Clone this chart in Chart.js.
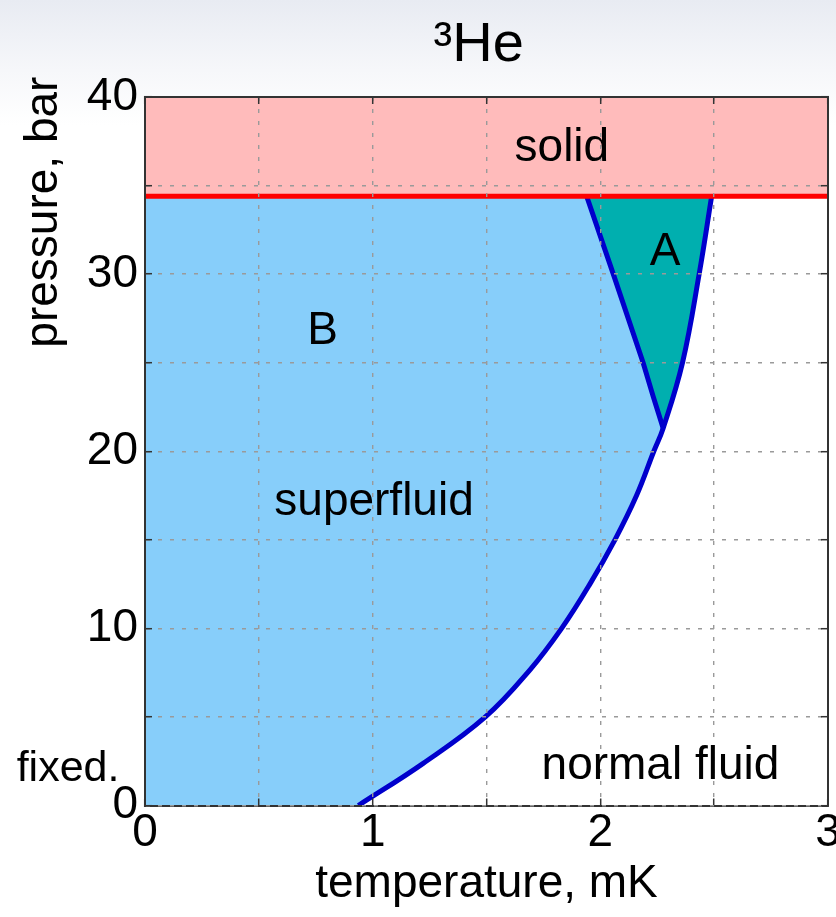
<!DOCTYPE html>
<html>
<head>
<meta charset="utf-8">
<script src="https://cdn.jsdelivr.net/npm/chart.js@4"></script>
<style>
  html, body { margin: 0; padding: 0; }
  body { width: 836px; height: 917px; overflow: hidden;
         background: linear-gradient(to bottom, #e8ebf2 0px, #f6f7fa 70px, #ffffff 125px); }
  canvas { display: block; }
</style>
</head>
<body>
<canvas id="c" width="836" height="917"></canvas>
<script>
// ---------- data ----------
const chartTitle = '³He ';
const xAxisTitle = 'temperature, mK';
const yAxisTitle = 'pressure, bar';

// tick values that carry a label (grid every 0.5 mK and 5 bar)
const xTickLabels = [0, 1, 2, 3];
const yTickLabels = [0, 10, 20, 30, 40];

// normal fluid / superfluid transition curve T_c(P)
const tcCurveT = [0.937, 1.222, 1.495, 1.691, 1.83, 1.954, 2.064, 2.159, 2.235, 2.276, 2.361, 2.434, 2.489];
const tcCurveP = [0,     2.38,  5,     7.66,  10,   12.5,  15,    17.5,  20,    21.3,  25,    30,    34.4];

// A–B transition line
const abLineT = [1.94, 2.057, 2.188, 2.232, 2.276];
const abLineP = [34.4, 30,    25,    23.1,  21.3];

// melting pressure line (solid above)
const meltT = [0, 3];
const meltP = [34.4, 34.4];

// region labels
const regionLabels = ['solid', 'A', 'B', 'superfluid', 'normal fluid', 'fixed.'];
const regionLabelT = [1.831, 2.284, 0.78, 1.006, 2.264, -0.338];
const regionLabelP = [36.37, 30.54, 26.07, 16.4, 1.5, 1.4];

// ---------- build datasets ----------
const FONT = '"Liberation Sans", Arial, sans-serif';
const pts = (T, P) => T.map((t, i) => ({ x: t, y: P[i] }));

const tcPts = pts(tcCurveT, tcCurveP);
const abPts = pts(abLineT, abLineP);
const meltPts = pts(meltT, meltP);

// B superfluid region: left of T_c curve, below melting line
const bPoly = [{ x: 0, y: 0 }].concat(tcPts, [{ x: 0, y: meltP[0] }]);
// A region: between A–B line and T_c curve
const junction = tcCurveP.indexOf(abLineP[abLineP.length - 1]);
const aPoly = abPts.concat(tcPts.slice(junction + 1));

const lab = (list) => function (v) {
  return list.some(t => Math.abs(t - v) < 1e-9) ? String(Math.round(v)) : '';
};

const regionText = {
  id: 'regionText',
  afterDraw(chart) {
    const { ctx } = chart;
    const x = chart.scales.x, y = chart.scales.y;
    ctx.save();
    ctx.fillStyle = '#000';
    ctx.textAlign = 'center';
    ctx.textBaseline = 'alphabetic';
    regionLabels.forEach((s, i) => {
      ctx.font = (s === 'fixed.' ? '43px ' : '46px ') + FONT;
      ctx.fillText(s, x.getPixelForValue(regionLabelT[i]), y.getPixelForValue(regionLabelP[i]));
    });
    // y axis title
    ctx.font = '46px ' + FONT;
    ctx.translate(y.left + 57, y.getPixelForValue(33.5));
    ctx.rotate(-Math.PI / 2);
    ctx.fillText(yAxisTitle, 0, 0);
    ctx.restore();
  }
};

const gridCommon = {
  color: '#9a9a9a',
  lineWidth: 1.4,
  drawTicks: true,
  tickLength: -7,
  tickColor: '#333',
  tickWidth: 1.5,
  tickBorderDash: [],
  z: 1
};
const borderCommon = { display: true, color: '#333', width: 2, dash: [4, 8], z: 1 };

new Chart(document.getElementById('c'), {
  type: 'line',
  data: {
    datasets: [
      { label: 'B', data: bPoly, fill: 'shape', backgroundColor: '#87CEFA',
        borderWidth: 0, pointRadius: 0, tension: 0, order: 6 },
      { label: 'A', data: aPoly, fill: 'shape', backgroundColor: '#00AFAF',
        borderWidth: 0, pointRadius: 0, tension: 0, order: 5 },
      { label: 'solid', data: meltPts, fill: 'end', backgroundColor: '#FFBBBB',
        borderWidth: 0, pointRadius: 0, order: 4 },
      { label: 'Tc', data: tcPts, fill: false, borderColor: '#0000CC', borderWidth: 5,
        pointRadius: 0, tension: 0.4, order: 2 },
      { label: 'A-B', data: abPts, fill: false, borderColor: '#0000CC', borderWidth: 5,
        pointRadius: 0, tension: 0, order: 2 },
      { label: 'melting', data: meltPts, fill: false, borderColor: '#FF0000', borderWidth: 5,
        pointRadius: 0, order: 1 }
    ]
  },
  options: {
    responsive: false,
    animation: false,
    devicePixelRatio: 1,
    font: { family: FONT },
    layout: { padding: { left: 0, right: 8, top: 0, bottom: 0 } },
    plugins: {
      legend: { display: false },
      tooltip: { enabled: false },
      title: {
        display: true, text: chartTitle, fullSize: false, color: '#000',
        font: { family: FONT, size: 56, weight: 'normal' },
        padding: { top: 12, bottom: 17.8 }
      }
    },
    scales: {
      x: {
        type: 'linear', position: 'bottom', min: 0, max: 3,
        ticks: { stepSize: 0.5, autoSkip: false, maxRotation: 0, padding: 7, color: '#000',
                 font: { family: FONT, size: 46 }, callback: lab(xTickLabels) },
        grid: gridCommon,
        border: borderCommon,
        title: { display: true, text: xAxisTitle, color: '#000',
                 font: { family: FONT, size: 46 }, padding: { top: 0, bottom: 5 } },
        afterFit(s) { s.height = 111.5; s.paddingLeft = 0; s.paddingRight = 0; }
      },
      y: {
        type: 'linear', position: 'left', min: 0, max: 40,
        ticks: { stepSize: 5, autoSkip: false, padding: 14, color: '#000',
                 font: { family: FONT, size: 46 }, callback: lab(yTickLabels) },
        grid: gridCommon,
        border: borderCommon,
        afterFit(s) { s.width = 145; s.paddingTop = 0; s.paddingBottom = 0; }
      },
      xTop: {
        type: 'linear', position: 'top', min: 0, max: 3,
        ticks: { display: false, stepSize: 0.5, autoSkip: false },
        grid: Object.assign({}, gridCommon, { drawOnChartArea: false }),
        border: borderCommon,
        afterFit(s) { s.height = 0; s.paddingLeft = 0; s.paddingRight = 0; }
      },
      yRight: {
        type: 'linear', position: 'right', min: 0, max: 40,
        ticks: { display: false, stepSize: 5, autoSkip: false },
        grid: Object.assign({}, gridCommon, { drawOnChartArea: false }),
        border: borderCommon,
        afterFit(s) { s.width = 0; s.paddingTop = 0; s.paddingBottom = 0; }
      }
    }
  },
  plugins: [regionText]
});
</script>
</body>
</html>
